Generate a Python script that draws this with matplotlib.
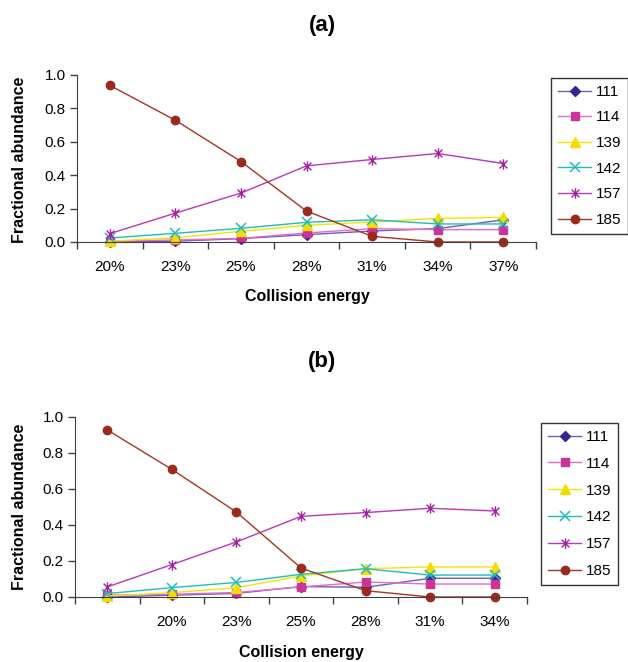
import numpy as np
import matplotlib
matplotlib.use('Agg')
import matplotlib.pyplot as plt
from matplotlib.path import Path

plt.rcParams['font.family'] = ['Liberation Sans', 'DejaVu Sans']

# panel (a)
cats_a = ['20%', '23%', '25%', '28%', '31%', '34%', '37%']
a_111 = [0.0, 0.005, 0.02, 0.044, 0.066, 0.08, 0.133]
a_114 = [0.005, 0.012, 0.022, 0.054, 0.08, 0.074, 0.074]
a_139 = [0.005, 0.025, 0.064, 0.10, 0.12, 0.141, 0.148]
a_142 = [0.024, 0.052, 0.082, 0.118, 0.133, 0.108, 0.108]
a_157 = [0.05, 0.173, 0.293, 0.456, 0.494, 0.53, 0.47]
a_185 = [0.938, 0.729, 0.482, 0.185, 0.034, 0.0, 0.0]

# panel (b)
cats_b = ['', '20%', '23%', '25%', '28%', '31%', '34%']
b_111 = [0.0, 0.01, 0.02, 0.058, 0.054, 0.104, 0.104]
b_114 = [0.01, 0.015, 0.025, 0.056, 0.083, 0.072, 0.072]
b_139 = [0.005, 0.024, 0.052, 0.117, 0.157, 0.167, 0.167]
b_142 = [0.019, 0.052, 0.081, 0.126, 0.157, 0.122, 0.122]
b_157 = [0.056, 0.18, 0.306, 0.448, 0.469, 0.493, 0.478]
b_185 = [0.928, 0.709, 0.472, 0.161, 0.035, 0.0, 0.0]

labels = ['111', '114', '139', '142', '157', '185']

# asterisk marker like the spreadsheet "star" (X plus vertical bar)
star = Path([(0, -1), (0, 1), (-0.75, -0.75), (0.75, 0.75), (-0.75, 0.75), (0.75, -0.75)],
            [Path.MOVETO, Path.LINETO, Path.MOVETO, Path.LINETO, Path.MOVETO, Path.LINETO])

styles = [
  dict(color='#6a5cc0', marker='D', mfc='#3a2494', mec='#3a2494', ms=5),
  dict(color='#e46cc4', marker='s', mfc='#cc3399', mec='#cc3399', ms=5.5),
  dict(color='#f2e600', marker='^', mfc='#f5dc00', mec='#f5dc00', ms=7),
  dict(color='#22bcbc', marker='x', mfc='#22bcbc', mec='#22bcbc', ms=7, mew=1.1),
  dict(color='#b838b8', marker=star, mfc='none', mec='#a020a0', ms=7.5, mew=1.0),
  dict(color='#a83424', marker='o', mfc='#9a2a1e', mec='#9a2a1e', ms=6),
]

fig = plt.figure(figsize=(6.28, 6.62), dpi=100)


def panel(rect, cats, series, legend_anchor, labelspacing):
  ax = fig.add_axes(rect)
  x = np.arange(len(cats))
  for vals, lab, st in zip(series, labels, styles):
    ax.plot(x, vals, '-', lw=1.0, label=lab, **st)
  ax.set_xlim(-0.5, len(cats) - 0.5)
  ax.set_ylim(0, 1.0)
  ax.set_yticks(np.arange(0, 1.01, 0.2))
  ax.yaxis.set_major_formatter(matplotlib.ticker.StrMethodFormatter('{x:.1f}'))
  ax.set_xticks(np.arange(len(cats) + 1) - 0.5)
  ax.set_xticklabels([])
  ax.set_xticks(x, minor=True)
  ax.set_xticklabels(cats, minor=True)
  ax.tick_params(axis='x', which='major', direction='out', length=5, width=1, color='#404040')
  ax.tick_params(axis='x', which='minor', length=0, pad=13, labelsize=11)
  ax.tick_params(axis='y', direction='out', length=5, width=1, color='#404040', labelsize=11, pad=3)
  ax.spines['right'].set_visible(False)
  ax.spines['top'].set_visible(False)
  ax.spines['left'].set_color('#404040')
  ax.spines['bottom'].set_color('#404040')
  for ln in ax.lines:
    ln.set_clip_on(False)
  leg = fig.legend(ax.lines, labels, loc='upper left', bbox_to_anchor=legend_anchor,
                   fontsize=11, frameon=True, fancybox=False, edgecolor='black',
                   handlelength=2.2, handletextpad=0.3, labelspacing=labelspacing,
                   borderpad=0.45, borderaxespad=0)
  leg.get_frame().set_linewidth(1.0)
  return ax


panel([77/628, 1 - 242/662, 459/628, 167/662], cats_a,
      [a_111, a_114, a_139, a_142, a_157, a_185], (551/628, 1 - 78/662), 0.76)
panel([75/628, 1 - 597/662, 452/628, 180/662], cats_b,
      [b_111, b_114, b_139, b_142, b_157, b_185], (541/628, 1 - 423/662), 0.84)

fig.text(322/628, 1 - 25/662, '(a)', ha='center', va='center', size=16, weight='bold')
fig.text(322/628, 1 - 362/662, '(b)', ha='center', va='center', size=16, weight='bold')
fig.text(307/628, 1 - 297/662, 'Collision energy', ha='center', va='center', size=11.5, weight='bold')
fig.text(301/628, 1 - 652/662, 'Collision energy', ha='center', va='center', size=11.5, weight='bold')
fig.text(20/628, 1 - 160/662, 'Fractional abundance', ha='center', va='center',
         rotation='vertical', size=11.5, weight='bold')
fig.text(20/628, 1 - 507/662, 'Fractional abundance', ha='center', va='center',
         rotation='vertical', size=11.5, weight='bold')

fig.savefig('out.png', dpi=100)
